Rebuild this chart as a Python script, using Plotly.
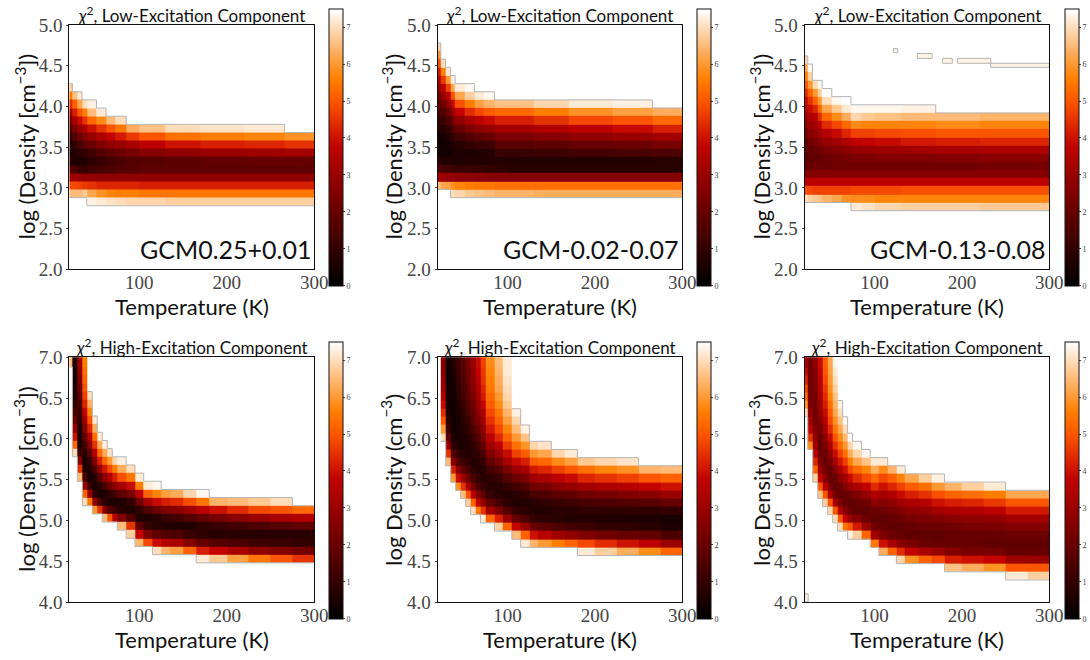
import plotly.graph_objects as go

# Temperature bin edges (K)
LOW_T = [20,23.5,29,34.5,40,51,62,73,85,100,130,170,220,266,300]
HIGH_T = [20,23.5,29.2,34.9,40.6,46.3,52,57.7,63.4,69.1,74.8,85,95,105,115,125,135,150,165,180,200,225,250,275,300]

# each panel: first density row (log, 0.1 dex rows) of each temperature column, then chi^2 going up
L1_START = [2.9,2.9,2.9,2.9,2.8,2.8,2.8,2.8,2.8,2.8,2.8,2.8,2.8,2.8]
L1_CHI = [
 [6.5,4.8,3.2,1.7,.9,.6,.7,1.1,1.7,2.4,3.3,4.4,5.5,6.8],
 [6.5,4.8,3.1,1.4,.6,.6,1,1.6,2.4,3.3,4.2,5.2,6.6],
 [6.5,4.7,3,1.2,.6,.9,1.4,2.1,3,3.9,5,6.2,7.2],
 [6.7,4.6,2.9,1,.6,1,1.7,2.5,3.4,4.5,5.6,7],
 [7.3,6.2,4.5,2.9,1.3,.9,1.3,2.1,3,4,5.3,6.5,7.3],
 [7.2,5.9,4.3,2.8,1.4,1.1,1.6,2.5,3.4,4.5,5.8,7.2],
 [7.1,5.7,4.3,2.8,1.5,1.3,1.9,2.8,3.8,5,6.5],
 [7,5.6,4.3,2.8,1.6,1.5,2.1,3,4.1,5.5,7],
 [6.9,5.6,4.3,2.8,1.7,1.6,2.3,3.3,4.6,6.3],
 [6.9,5.5,4.2,2.8,1.8,1.7,2.6,3.7,5,6.6],
 [6.8,5.5,4.2,2.8,1.8,1.8,2.8,4,5.4,7],
 [6.8,5.5,4.2,2.8,1.8,1.9,3,4.2,5.6,7.1],
 [6.8,5.5,4.2,2.8,1.8,2,3.1,4.3,5.7,7.2],
 [6.8,5.5,4.2,2.8,1.8,2,3.2,4.5,5.9],
]
L2_START = [3.0,3.0,3.0,2.9,2.9,2.9,2.9,2.9,2.9,2.9,2.9,2.9,2.9,2.9]
L2_CHI = [
 [6.5,3.2,1.5,.8,.5,.4,.5,.8,1,1.4,1.8,2.3,2.8,3.4,4.1,4.9,5.9,6.9],
 [6.2,3.1,1.4,.7,.4,.3,.5,.7,1.1,1.6,2.2,2.9,3.7,4.6,5.7,7],
 [6.1,3,1.3,.7,.4,.4,.6,1,1.5,2.1,2.8,3.7,4.7,6,7.2],
 [7,5.9,2.9,1.2,.7,.5,.6,.9,1.4,2.1,2.9,3.8,4.9,6.2,7.3],
 [6.9,5.7,2.8,1.1,.7,.6,.8,1.3,2,2.8,3.8,4.9,6.2,7.2],
 [6.7,5.6,2.7,1.1,.7,.6,1,1.6,2.4,3.3,4.4,5.6,6.8,7.4],
 [6.6,5.5,2.7,1.1,.7,.7,1.1,1.8,2.7,3.7,4.8,6.1,7.2],
 [6.5,5.5,2.6,1,.7,.7,1.2,2,2.9,3.9,5.1,6.4,7.4],
 [6.4,5.4,2.6,.9,.7,1.1,1.7,2.4,3.2,4.2,5.3,6.6],
 [6.4,5.4,2.6,.8,.7,1.1,1.7,2.4,3.2,4.2,5.3,6.6],
 [6.3,5.4,2.6,.8,.7,1.2,1.8,2.6,3.5,4.5,5.6,6.9],
 [6.3,5.4,2.6,.8,.7,1.3,2,2.8,3.7,4.8,5.9,7.2],
 [6.3,5.4,2.6,.8,.7,1.4,2.1,3,3.9,5,6.1,7.3],
 [6.3,5.4,2.6,.8,.8,1.5,2.3,3.2,4.2,5.3,6.3],
]
L3_START = [2.8,2.8,2.8,2.8,2.8,2.8,2.8,2.7,2.7,2.7,2.7,2.7,2.7,2.7]
L3_CHI = [
 [7,4.9,3.7,2.6,2,1.8,1.8,2,2.3,2.7,3.1,3.5,3.9,4.4,5,5.6,6.2,6.9],
 [6.8,4.8,3.7,2.6,2,1.8,1.9,2.2,2.6,3,3.4,3.9,4.5,5.2,6,6.8,7.4],
 [6.7,4.7,3.7,2.6,2.1,1.9,2.1,2.4,2.8,3.2,3.6,4.3,5.2,6,7],
 [6.6,4.7,3.7,2.6,2.1,2,2.2,2.6,3.1,3.7,4.4,5.2,6,6.8,7.4],
 [6.4,4.7,3.7,2.6,2.1,2.1,2.4,2.9,3.6,4.4,5.3,6.2,7,7.5],
 [6.2,4.7,3.7,2.6,2.2,2.2,2.5,3.1,3.9,4.8,5.8,6.7,7.4],
 [5.9,4.7,3.7,2.6,2.2,2.3,2.7,3.4,4.3,5.3,6.3,7.2,7.5],
 [7.2,5.8,4.8,3.7,2.6,2.2,2.4,2.9,3.7,4.7,5.8,6.9,7.4],
 [7.1,5.8,4.8,3.7,2.6,2.2,2.4,3,3.8,4.7,5.7,6.7,7.4],
 [6.9,5.7,4.8,3.7,2.6,2.2,2.5,3.1,3.9,4.8,5.7,6.6,7.4],
 [6.8,5.7,4.9,3.7,2.6,2.2,2.5,3.2,4.1,4.9,5.7,6.5,7.3],
 [6.8,5.7,4.9,3.7,2.6,2.2,2.6,3.3,4.2,5,5.8,6.5],
 [6.7,5.7,4.9,3.7,2.6,2.3,2.7,3.4,4.3,5,5.7,6.4],
 [6.7,5.7,4.9,3.7,2.6,2.3,2.7,3.4,4.3,5,5.7,6.4],
]
H1_START = [6.9,5.8,5.5,5.2,5.2,5.1,5.1,5.0,5.0,5.0,4.9,4.8,4.7,4.7,4.6,4.6,4.6,4.6,4.5,4.5,4.5,4.5,4.5,4.5]
H1_CHI = [
 [6.5],
 [7,5.2,4,3,2.1,1.4,1,.7,.6,.5,.5,.6],
 [6.5,4.5,2.6,1.2,.6,.5,.6,.9,1.2,1.5,1.9,2.2,2.5,2.8,3.1],
 [7,5.2,3,1.4,.6,.5,.8,1.3,1.9,2.6,3.2,3.8,4.3,4.7,5,5.2,5.4,5.6],
 [5.5,3,1.2,.5,.7,1.1,1.9,2.8,3.6,4.3,5,5.7,6.3,7],
 [6,2.8,1,.5,.8,1.6,2.6,3.6,4.5,5.4,6.3,7.2],
 [4.5,1.5,.5,.8,1.8,3,4.2,5.3,6.3,7.2],
 [6.5,2.6,.8,.6,1.5,2.8,4.1,5.3,6.3,7.3],
 [5,1.6,.6,1,2.2,3.5,4.8,6,7.1],
 [3.5,1.2,.6,1.3,2.7,4.2,5.6,6.9],
 [6.5,2.5,.8,.7,1.8,3.3,4.9,6.3,7.3],
 [6.8,4.5,1.6,.6,1,2.3,3.9,5.5,7],
 [6.4,3.8,1.8,.7,.9,2.1,3.7,5.6,7.2],
 [4.8,2.4,1,.6,1.6,3.3,5.2,7.2],
 [7,3.9,1.9,.8,.8,2.1,3.9,5.7,7.4],
 [6.4,3.5,1.6,.7,1.1,2.5,4.2,6.1],
 [6.1,3.3,1.5,.7,1.3,2.7,4.4,6.3],
 [5.2,2.6,1.1,.7,1.6,3.1,4.9,6.9],
 [7.2,4.2,2,.9,.9,2,3.7,5.5,7.4],
 [6.7,3.8,1.7,.8,1.1,2.3,4,6.4],
 [6.1,3.3,1.5,.8,1.3,2.7,4.4,6.5],
 [5.5,2.8,1.2,.8,1.5,3,4.8,6.7],
 [5,2.5,1.1,.8,1.7,3.3,5,7],
 [4.5,2.2,1,.8,1.9,3.5,5.3],
]
H2_START = [6.0,6.0,5.7,5.5,5.4,5.3,5.2,5.1,5.1,5.0,5.0,4.9,4.9,4.8,4.7,4.7,4.7,4.7,4.7,4.6,4.6,4.6,4.6,4.6]
H2_CHI = [
 [],
 [7,6,5,4.4,3.9,3.5,3.1,2.9,2.7,2.6],
 [6.5,4.5,3,1.9,1.2,.8,.6,.5,.4,.4,.3,.3,.3],
 [6,4.2,2.7,1.6,1,.6,.4,.3,.3,.3,.4,.4,.5,.6,.7],
 [5.8,3.9,2.6,1.6,1,.7,.5,.4,.5,.6,.7,.8,.9,1,1.1,1.2],
 [6.5,4.5,3,1.9,1.2,.8,.6,.6,.7,.8,1,1.1,1.3,1.4,1.5,1.6,1.7],
 [6.8,4.9,3.3,2.1,1.3,.9,.7,.7,.8,1,1.2,1.4,1.6,1.8,1.9,2.1,2.2,2.3],
 [7,5.2,3.6,2.3,1.4,.9,.7,.8,.9,1.2,1.5,1.8,2,2.2,2.4,2.6,2.8,2.9,3],
 [5.5,3.8,2.5,1.5,1,.8,.8,1,1.3,1.7,2.1,2.4,2.7,3,3.2,3.4,3.6,3.8,3.9],
 [7.2,4.5,2.9,1.8,1.1,.8,.8,1,1.4,1.9,2.4,2.8,3.2,3.5,3.8,4.1,4.3,4.5,4.6,4.7],
 [5.2,3.2,1.9,1.1,.8,.9,1.3,1.9,2.5,3.1,3.6,4.1,4.5,4.8,5.1,5.3,5.5,5.6,5.7,5.8],
 [6.8,4.2,2.4,1.3,.8,.8,1.1,1.7,2.4,3.1,3.7,4.3,4.8,5.2,5.5,5.8,6,6.2,6.3,6.4,6.5],
 [5.2,3,1.6,.9,.7,1,1.6,2.4,3.2,3.9,4.6,5.2,5.7,6.1,6.4,6.7,6.9,7,7.1,7.2,7.2],
 [6.5,3.8,2,1,.7,.8,1.3,2.1,3,3.9,4.7,5.4,6,6.5,6.9,7.3],
 [7.2,5.2,3,1.5,.8,.7,1,1.6,2.4,3.3,4.2,5.1,5.9,6.6,7.3],
 [6.4,4,2.1,1,.7,.8,1.4,2.2,3.1,4.1,5.1,6,6.9],
 [6,3.6,1.8,.9,.7,.9,1.5,2.3,3.3,4.3,5.3,6.2,7.1],
 [5.6,3.1,1.5,.8,.8,1.1,1.8,2.7,3.7,4.7,5.8,6.9],
 [5.2,2.8,1.3,.7,.8,1.2,1.9,2.9,3.9,5,6.1,7.2],
 [7.2,4.8,2.5,1.2,.7,.9,1.4,2.2,3.2,4.3,5.4,6.7],
 [6.8,4.4,2.2,1,.7,.9,1.5,2.3,3.4,4.5,5.7,6.9],
 [6.3,4,2,.9,.6,.9,1.6,2.5,3.6,4.7,5.9,7.1],
 [5.8,3.7,1.9,.8,.6,.9,1.7,2.7,3.8,5,6.4],
 [5.2,3,1.5,.6,.5,1,2,3,4,5.2,6.5],
]
H3_START = [6.3,5.9,5.5,5.3,5.2,5.1,5.0,4.9,4.9,4.8,4.8,4.8,4.7,4.6,4.6,4.5,4.5,4.5,4.5,4.4,4.4,4.4,4.3,4.3]
H3_CHI = [
 [7,6,5.3,4.8,4.3,3.9,3.5],
 [5.8,4.5,3.7,3.1,2.8,2.5,2.3,2.2,2.2,2.2,2.2],
 [6.8,5.2,4.3,3.6,3.1,2.8,2.5,2.3,2.2,2.2,2.3,2.4,2.5,2.6,2.8],
 [6.6,5,3.8,3,2.5,2.2,2,2.1,2.3,2.6,2.9,3.1,3.3,3.5,3.6,3.8,3.9],
 [6.8,5,3.6,2.7,2.2,2,2.1,2.4,2.8,3.2,3.6,3.9,4.2,4.4,4.6,4.8,5,5.1],
 [6.9,5,3.4,2.5,2,2,2.3,2.8,3.4,3.9,4.4,4.8,5.1,5.4,5.7,5.9,6,6.1,6.2],
 [7,5,3.3,2.3,1.9,2.1,2.6,3.3,3.9,4.5,5,5.5,5.9,6.2,6.4,6.6,6.8,7,7.2,7.4],
 [7,5,3.4,2.4,1.9,2.1,2.7,3.4,4.1,4.7,5.3,5.8,6.2,6.6,7,7.3],
 [5.5,3.8,2.6,2,2,2.5,3.2,4,4.7,5.4,6,6.5,7,7.4],
 [7.3,5,3,2.1,1.9,2.2,3,3.9,4.8,5.6,6.3,6.9,7.4],
 [6.8,4.1,2.5,1.9,2,2.5,3.4,4.4,5.3,6.2,6.9,7.4],
 [5.2,3,2.1,1.9,2.2,2.9,3.8,4.8,5.7,6.6,7.4],
 [5.5,3.2,2.2,1.9,2.1,2.7,3.5,4.4,5.3,6.3,7.2],
 [6.3,4,2.5,2,1.9,2.1,2.6,3.2,4,4.8,5.8,7.2],
 [5.2,3.3,2.1,1.9,2,2.3,2.8,3.5,4.3,5.2,6.4],
 [6.9,4.4,2.7,2,1.9,2.1,2.5,3.1,3.9,4.7,5.7,7.2],
 [5.9,3.8,2.4,1.9,2,2.3,2.8,3.4,4.2,5.1,6.2],
 [5.2,3.3,2.1,1.9,2.1,2.4,2.9,3.6,4.5,5.4,6.8],
 [4.8,3,2,1.9,2.1,2.5,3.2,4,4.9,6,7.3],
 [6.6,4.2,2.6,2,2,2.2,2.7,3.4,4.2,5.2,6.4],
 [6.3,4,2.4,2,2,2.3,2.8,3.5,4.3,5.4,6.8],
 [5.9,3.8,2.3,1.9,2,2.4,2.9,3.7,4.6,5.6,7.2],
 [7.2,5,3.1,2,1.9,2.1,2.6,3.2,4.1,5,6.2],
 [6.8,5,3,2,1.9,2.1,2.6,3.2,4.1,5,6.2],
]

# isolated faint islands just under the chi^2 ceiling: (T low, T high, density low, density high)
L3_ISLANDS = [(121.5,126.5,4.66,4.71),(149,166,4.59,4.65),(177.6,189,4.53,4.59),(195,233,4.53,4.59),(233,300,4.48,4.53)]
H3_ISLANDS = [(20,24,4.0,4.1)]

SOURCES = ["GCM0.25+0.01", "GCM-0.02-0.07", "GCM-0.13-0.08"]
LOW_LABELS = ["log (Density [cm<sup>\u22123</sup>])"] * 3
HIGH_LABELS = ["log (Density [cm<sup>\u22123</sup>])", "log Density (cm<sup>\u22123</sup>)", "log Density (cm<sup>\u22123</sup>)"]
T_TICKS = [100, 200, 300]
LOW_TICKS = [2.0, 2.5, 3.0, 3.5, 4.0, 4.5, 5.0]
HIGH_TICKS = [4.0, 4.5, 5.0, 5.5, 6.0, 6.5, 7.0]
CB_TICKS = [0, 1, 2, 3, 4, 5, 6, 7]

W, H = 1090, 660
GIST_HEAT = []
for i in range(0, 21):
    v = i / 20
    r = min(1, 1.5 * v); g = max(0, 2 * v - 1); b = max(0, 4 * v - 3)
    GIST_HEAT.append([v, f"rgb({r*255:.0f},{g*255:.0f},{b*255:.0f})"])

COL_X = [(69.3, 314.3), (437.7, 682.2), (804.7, 1049.3)]
CB_X = [(329.3, 343.7), (697.3, 711.5), (1064.7, 1079)]
ROW_Y = [(25, 269.3), (357.3, 602)]
CB_Y = [(9, 285.7), (341.3, 618.7)]
MAIN = "Lato"
SERIF = "Liberation Serif"

panels = [
    (0, 0, LOW_T, L1_START, L1_CHI, -0.02, LOW_TICKS, (2, 5), LOW_LABELS[0], []),
    (0, 1, LOW_T, L2_START, L2_CHI, -0.02, LOW_TICKS, (2, 5), LOW_LABELS[1], []),
    (0, 2, LOW_T, L3_START, L3_CHI, 0.02, LOW_TICKS, (2, 5), LOW_LABELS[2], L3_ISLANDS),
    (1, 0, HIGH_T, H1_START, H1_CHI, -0.02, HIGH_TICKS, (4, 7), HIGH_LABELS[0], []),
    (1, 1, HIGH_T, H2_START, H2_CHI, -0.03, HIGH_TICKS, (4, 7), HIGH_LABELS[1], []),
    (1, 2, HIGH_T, H3_START, H3_CHI, -0.03, HIGH_TICKS, (4, 7), HIGH_LABELS[2], H3_ISLANDS),
]

fig = go.Figure()
layout = {}
annotations = []
LABEL_X = [25, 392, 760]


def build_grid(edges, starts, chi, offset):
    """Expand sparse columns to a rectangular z grid with 0.1 dex rows."""
    lo = min(starts)
    n = max(round((s - lo) * 10) + len(c) for s, c in zip(starts, chi)) + 1
    z = [[None] * len(chi) for _ in range(n)]
    tops, bottoms = [], []
    for j, (s, col) in enumerate(zip(starts, chi)):
        k0 = round((s - lo) * 10)
        for k, val in enumerate(col):
            z[k0 + k][j] = val
        if col:
            top_index = k0 + len(col)
            if round(s + len(col) * 0.1, 1) >= 7.0:
                z[top_index][j] = col[-1]
                top_index += 1
            tops.append(lo + offset + top_index * 0.1)
            bottoms.append(lo + offset + k0 * 0.1)
        else:
            tops.append(None)
            bottoms.append(None)
    y = [lo + offset + i * 0.1 for i in range(n + 1)]
    return y, z, tops, bottoms


for idx, (row, col, edges, starts, chi, off, yticks, yrange, ylabel, islands) in enumerate(panels):
    n = idx + 1
    xa, ya = f"xaxis{n}", f"yaxis{n}"
    x0, x1 = COL_X[col]
    y0, y1 = ROW_Y[row]
    layout[xa] = dict(domain=[x0 / W, x1 / W], range=[20, 300], tickvals=T_TICKS, ticks="", ticklabelstandoff=-4,
                      tickfont=dict(family=SERIF, size=19, color="#444"), showgrid=False, zeroline=False,
                      showline=True, mirror=True, linecolor="#111", linewidth=1.2, anchor=f"y{n}")
    layout[ya] = dict(domain=[1 - y1 / H, 1 - y0 / H], range=list(yrange), tickvals=yticks, tickformat=".1f",
                      ticks="outside", ticklen=2, tickfont=dict(family=SERIF, size=19, color="#444"), showgrid=False,
                      zeroline=False, showline=True, mirror=True, linecolor="#111", linewidth=1.2, anchor=f"x{n}")
    ys, z, tops, bottoms = build_grid(edges, starts, chi, off)
    cy0, cy1 = CB_Y[row]
    cx0, cx1 = CB_X[col]
    fig.add_trace(go.Heatmap(x=edges, y=ys, z=z, zmin=0, zmax=7.5, colorscale=GIST_HEAT, hoverongaps=False,
                             xaxis=f"x{n}", yaxis=f"y{n}",
                             colorbar=dict(x=cx0 / W, xanchor="left", xpad=0, y=1 - cy1 / H, yanchor="bottom", ypad=0,
                                           len=(cy1 - cy0) / H, lenmode="fraction", thickness=cx1 - cx0,
                                           thicknessmode="pixels", tickvals=CB_TICKS, ticks="outside", ticklen=2,
                                           tickfont=dict(family=SERIF, size=8, color="#444"),
                                           outlinewidth=1, outlinecolor="#111")))
    # grey outline along the top and bottom of the filled region
    for bound in (tops, bottoms):
        lx, ly = [], []
        for j, b in enumerate(bound):
            if b is None or b >= yrange[1]:
                continue
            lx += [edges[j], edges[j + 1]]
            ly += [b, b]
        fig.add_trace(go.Scatter(x=lx, y=ly, mode="lines", line=dict(color="#b5b5b5", width=1), showlegend=False,
                                 hoverinfo="skip", xaxis=f"x{n}", yaxis=f"y{n}"))
    for (t0, t1, d0, d1) in islands:
        fig.add_trace(go.Scatter(x=[t0, t1, t1, t0, t0], y=[d0, d0, d1, d1, d0], mode="lines", fill="toself",
                                 fillcolor="#fff3e6", line=dict(color="#b5b5b5", width=1), showlegend=False,
                                 hoverinfo="skip", xaxis=f"x{n}", yaxis=f"y{n}"))
    cx = (x0 + x1) / 2
    word = "Low" if row == 0 else "High"
    annotations.append(dict(text=f"<i>\u03c7</i><sup>2</sup>, {word}-Excitation Component", x=cx / W, y=1 - (y0 - 11) / H,
                            xref="paper", yref="paper", showarrow=False, font=dict(family=MAIN, size=17, color="#111"),
                            xanchor="center", yanchor="middle"))
    annotations.append(dict(text="Temperature (K)", x=cx / W, y=1 - (y1 + 37) / H, xref="paper", yref="paper",
                            showarrow=False, font=dict(family=MAIN, size=22, color="#111"), xanchor="center",
                            yanchor="middle"))
    annotations.append(dict(text=ylabel, x=LABEL_X[col] / W, y=1 - ((y0 + y1) / 2) / H, xref="paper", yref="paper",
                            showarrow=False, textangle=-90, font=dict(family=MAIN, size=22, color="#111"),
                            xanchor="center", yanchor="middle"))
    if row == 0:
        annotations.append(dict(text=SOURCES[col], x=(x1 - 1) / W, y=1 - (y1 - 20) / H, xref="paper", yref="paper",
                                showarrow=False, font=dict(family=MAIN, size=25, color="#111"), xanchor="right",
                                yanchor="middle"))

fig.update_layout(width=W, height=H, margin=dict(l=0, r=0, t=0, b=0, autoexpand=False), paper_bgcolor="white",
                  plot_bgcolor="white", showlegend=False, annotations=annotations, **layout)
fig.write_html("out.html", config={"displayModeBar": False},
               post_script="document.body.style.margin='0';document.documentElement.style.overflow='hidden';")
